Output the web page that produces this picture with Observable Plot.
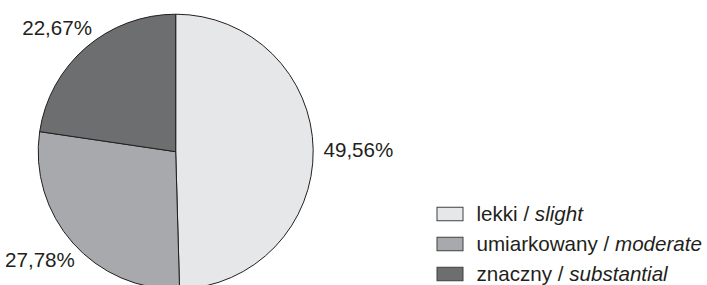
<!DOCTYPE html>
<html><head><meta charset="utf-8">
<script src="https://cdn.jsdelivr.net/npm/d3@7"></script>
<script src="https://cdn.jsdelivr.net/npm/@observablehq/plot@0.6"></script>
<style>html,body{margin:0;padding:0;background:#fff;overflow:hidden}</style>
</head><body><div id="chart"></div>
<script>
// ---- data ----
const categoriesPl = ["lekki", "umiarkowany", "znaczny"];
const categoriesEn = ["slight", "moderate", "substantial"];
const shares = [49.56, 27.78, 22.67];
const colors = ["#e6e7e8", "#a7a9ac", "#6d6e70"];

// ---- layout ----
const W = 707, H = 285;
const FONT = "Liberation Sans, Arial, Helvetica, sans-serif";
const FS = 20.6;
const INK = "#231f20";
const cx = 175.7, cy = 151.7, r = 137.5;
const labelGap = 9.8, labelHalfH = 0.78 * FS;
const legendX = 437, legendTop = 214, legendStep = 30, swW = 26, swH = 13.5, legendTextGap = 13;

const plLocale = d3.formatLocale({decimal: ",", thousands: " ", grouping: [3], currency: ["", " zł"]});
const fmt = v => plLocale.format(".2f")(v) + "%";

const rows = categoriesPl.map((pl, i) => ({key: pl, pl, en: categoriesEn[i], value: shares[i]}));
const arcs = d3.pie().sort(null).value(d => d.value)(rows);

const ctx = document.createElement("canvas").getContext("2d");
function measure(s, italic) {
  ctx.font = `${italic ? "italic " : ""}${FS}px Liberation Sans`;
  return ctx.measureText(s).width;
}

const labels = arcs.map(a => {
  const t = (a.startAngle + a.endAngle) / 2;
  const ux = Math.sin(t), uy = -Math.cos(t);
  const text = fmt(a.data.value);
  const w = measure(text);
  return {
    text,
    x: cx + (r + labelGap + w / 2) * ux,
    y: cy + (r + labelGap + labelHalfH) * uy
  };
});

function pieMark(index, scales) {
  const g = d3.create("svg:g").attr("transform", `translate(${cx},${cy})`);
  const arc = d3.arc().innerRadius(0).outerRadius(r);
  g.selectAll("path").data(arcs).join("path")
    .attr("d", arc)
    .attr("fill", d => scales.color(d.data.key))
    .attr("stroke", INK)
    .attr("stroke-width", 1)
    .attr("stroke-linejoin", "round");
  return g.node();
}

const chart = Plot.plot({
  width: W, height: H, margin: 0,
  x: {type: "identity", axis: null},
  y: {type: "identity", axis: null},
  color: {type: "ordinal", domain: categoriesPl, range: colors},
  style: {fontFamily: FONT, background: "#fff", overflow: "hidden"},
  marks: [
    pieMark,
    Plot.text(labels, {x: "x", y: "y", text: "text", textAnchor: "middle", lineAnchor: "middle",
      fontSize: FS, fontFamily: FONT, fill: INK}),
    Plot.rect(rows, {
      x1: () => legendX, x2: () => legendX + swW,
      y1: (d, i) => legendTop + i * legendStep - swH / 2,
      y2: (d, i) => legendTop + i * legendStep + swH / 2,
      fill: "key", stroke: "#414042", strokeWidth: 1
    }),
    Plot.text(rows, {
      x: () => legendX + swW + legendTextGap,
      y: (d, i) => legendTop + i * legendStep,
      text: d => d.pl + " /", textAnchor: "start", lineAnchor: "middle",
      fontSize: FS, fontFamily: FONT, fill: INK
    }),
    Plot.text(rows, {
      x: d => legendX + swW + legendTextGap + measure(d.pl + " / "),
      y: (d, i) => legendTop + i * legendStep,
      text: "en", textAnchor: "start", lineAnchor: "middle",
      fontSize: FS, fontFamily: FONT, fontStyle: "italic", fill: INK
    })
  ]
});
document.getElementById("chart").appendChild(chart);
</script>
</body></html>
